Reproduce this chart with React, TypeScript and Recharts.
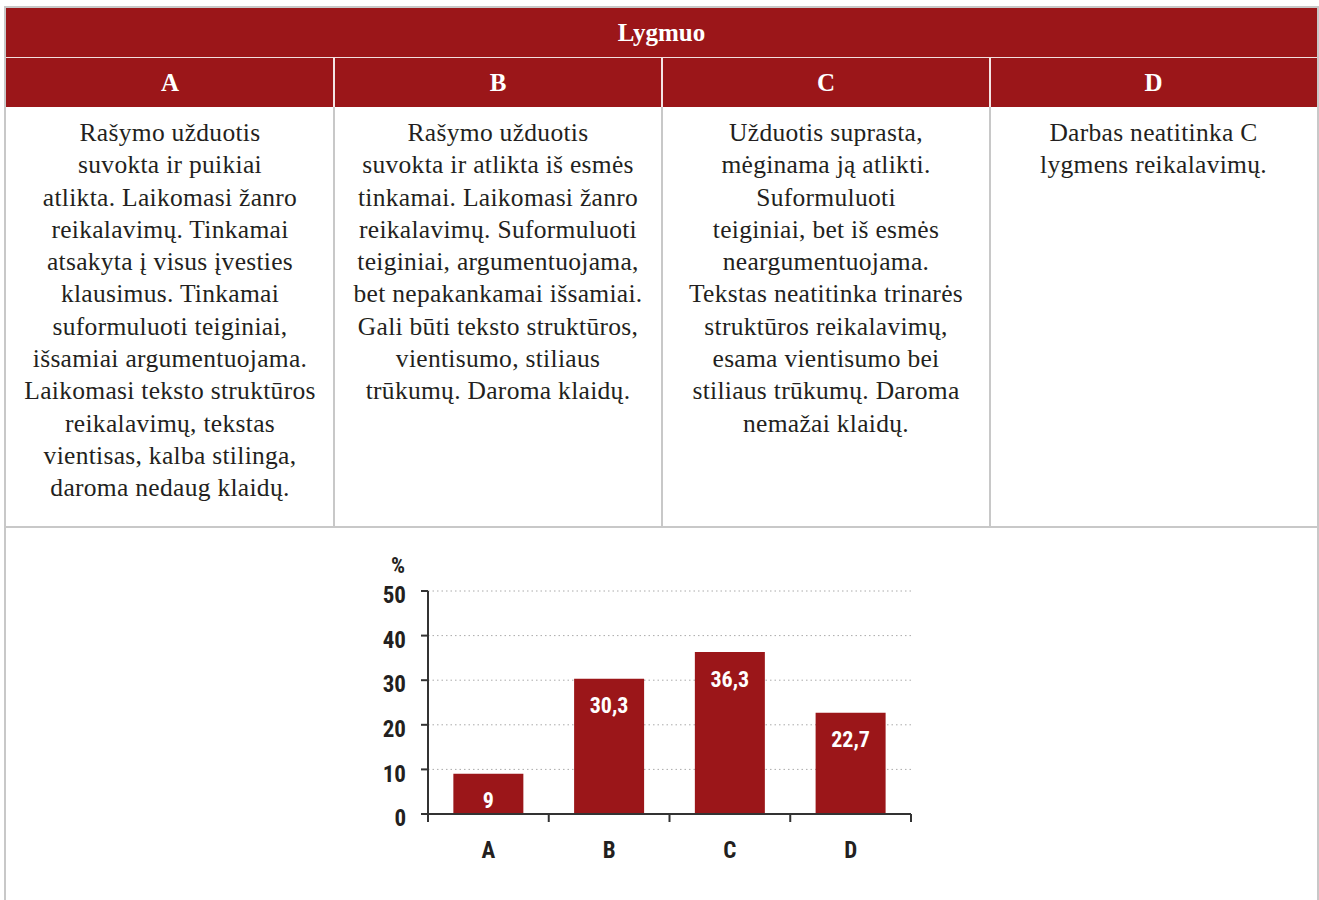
import React from 'react';
import { BarChart, Bar, XAxis, YAxis, CartesianGrid, LabelList } from 'recharts';

const levels = ['A', 'B', 'C', 'D'];
const shares = [9, 30.3, 36.3, 22.7];
const yTicks = [0, 10, 20, 30, 40, 50];

const levelTexts: string[][] = [
  [
    'Rašymo užduotis',
    'suvokta ir puikiai',
    'atlikta. Laikomasi žanro',
    'reikalavimų. Tinkamai',
    'atsakyta į visus įvesties',
    'klausimus. Tinkamai',
    'suformuluoti teiginiai,',
    'išsamiai argumentuojama.',
    'Laikomasi teksto struktūros',
    'reikalavimų, tekstas',
    'vientisas, kalba stilinga,',
    'daroma nedaug klaidų.',
  ],
  [
    'Rašymo užduotis',
    'suvokta ir atlikta iš esmės',
    'tinkamai. Laikomasi žanro',
    'reikalavimų. Suformuluoti',
    'teiginiai, argumentuojama,',
    'bet nepakankamai išsamiai.',
    'Gali būti teksto struktūros,',
    'vientisumo, stiliaus',
    'trūkumų. Daroma klaidų.',
  ],
  [
    'Užduotis suprasta,',
    'mėginama ją atlikti.',
    'Suformuluoti',
    'teiginiai, bet iš esmės',
    'neargumentuojama.',
    'Tekstas neatitinka trinarės',
    'struktūros reikalavimų,',
    'esama vientisumo bei',
    'stiliaus trūkumų. Daroma',
    'nemažai klaidų.',
  ],
  ['Darbas neatitinka C', 'lygmens reikalavimų.'],
];

const data = levels.map((level, i) => ({ level, value: shares[i] }));

const RED = '#9b1619';
const BORDER = '#c8c8c8';
const INK = '#231f20';
const SERIF = "'Liberation Serif', 'DejaVu Serif', serif";
const NARROW = "'Roboto Condensed', 'Liberation Sans Narrow', 'Liberation Sans', Arial, sans-serif";

// column edges of the table, in page pixels
const COLS = [6, 334, 662, 990, 1317];

const TICK_SIZE = 8;

const narrowText = {
  fontFamily: NARROW,
  fontWeight: 'bold' as const,
  style: { fontStretch: 'condensed' },
};

// category tick: label in the middle of the band, tick marks on the band edges
const LevelTick = (props: any) => {
  const { x, y, payload, index, visibleTicksCount } = props;
  const half = payload && typeof payload.offset === 'number' ? payload.offset : 60;
  const axisY = y - TICK_SIZE;
  const last = index === visibleTicksCount - 1;
  return (
    <g>
      <line x1={x - half} x2={x - half} y1={axisY} y2={axisY + TICK_SIZE} stroke="#333" strokeWidth={2} />
      {last && (
        <line x1={x + half} x2={x + half} y1={axisY} y2={axisY + TICK_SIZE} stroke="#333" strokeWidth={2} />
      )}
      <text
        x={x}
        y={axisY + 36}
        textAnchor="middle"
        dominantBaseline="central"
        fill={INK}
        fontSize={23}
        {...narrowText}
      >
        {payload.value}
      </text>
    </g>
  );
};

const abs = (left: number, top: number, width: number, height: number): React.CSSProperties => ({
  position: 'absolute',
  left,
  top,
  width,
  height,
  boxSizing: 'border-box',
});

export default function App() {
  return (
    <div style={{ position: 'absolute', left: 0, top: 0, width: 1319, height: 900, background: '#fff', overflow: 'hidden' }}>
      {/* outer frame */}
      <div style={{ ...abs(4, 6, 1315, 900), borderTop: `2px solid ${BORDER}`, borderLeft: `2px solid ${BORDER}`, borderRight: `2px solid ${BORDER}` }} />

      {/* title row */}
      <div
        style={{
          ...abs(6, 8, COLS[4] - COLS[0], 49),
          background: RED,
          color: '#fff',
          fontFamily: SERIF,
          fontWeight: 'bold',
          fontSize: 25,
          lineHeight: '50px',
          textAlign: 'center',
        }}
      >
        Lygmuo
      </div>
      <div style={{ ...abs(6, 57, COLS[4] - COLS[0], 1), background: '#f2dede' }} />

      {/* level header row */}
      {levels.map((level, i) => (
        <div
          key={level}
          style={{
            ...abs(COLS[i], 58, COLS[i + 1] - COLS[i], 49),
            background: RED,
            color: '#fff',
            fontFamily: SERIF,
            fontWeight: 'bold',
            fontSize: 25,
            lineHeight: '49px',
            textAlign: 'center',
          }}
        >
          {level}
        </div>
      ))}
      {COLS.slice(1, 4).map((c) => (
        <div key={`hw${c}`} style={{ ...abs(c - 1, 58, 2, 49), background: '#f4e4e4' }} />
      ))}

      {/* descriptions */}
      {levelTexts.map((lines, i) => (
        <div
          key={`t${i}`}
          style={{
            ...abs(COLS[i], 107, COLS[i + 1] - COLS[i], 419),
            paddingTop: 10,
            color: INK,
            fontFamily: SERIF,
            fontSize: 25.5,
            letterSpacing: 0.3,
            lineHeight: '32.3px',
            textAlign: 'center',
            whiteSpace: 'nowrap',
          }}
        >
          {lines.map((line, j) => (
            <div key={j}>{line}</div>
          ))}
        </div>
      ))}
      {COLS.slice(1, 4).map((c) => (
        <div key={`bv${c}`} style={{ ...abs(c - 1, 107, 2, 420), background: BORDER }} />
      ))}
      <div style={{ ...abs(6, 526, COLS[4] - COLS[0], 2), background: BORDER }} />

      {/* share of students per level */}
      <div style={{ position: 'absolute', left: 340, top: 550 }}>
        <BarChart
          width={600}
          height={330}
          data={data}
          margin={{ top: 41, right: 29, left: 48, bottom: 16 }}
          barCategoryGap="21%"
        >
          <CartesianGrid vertical={false} stroke="#aaaaaa" strokeDasharray="1.5 3" />
          <XAxis
            dataKey="level"
            height={50}
            axisLine={{ stroke: '#333', strokeWidth: 2 }}
            tickLine={false}
            tickSize={TICK_SIZE}
            tickMargin={0}
            tick={<LevelTick />}
            interval={0}
          />
          <YAxis
            width={40}
            domain={[0, 50]}
            ticks={yTicks}
            interval={0}
            axisLine={{ stroke: '#333', strokeWidth: 2 }}
            tickLine={{ stroke: '#333', strokeWidth: 2 }}
            tickSize={7}
            tickMargin={15}
            tick={{ fill: INK, fontSize: 23, dy: 4, ...narrowText }}
            label={{
              value: '%',
              position: 'top',
              offset: 18,
              dx: -10,
              fill: INK,
              fontSize: 22,
              ...narrowText,
            }}
          />
          <Bar dataKey="value" fill={RED} isAnimationActive={false}>
            <LabelList
              dataKey="value"
              position="insideTop"
              offset={19}
              fill="#fff"
              fontSize={22}
              {...narrowText}
              formatter={(v: any) => String(v).replace('.', ',')}
            />
          </Bar>
        </BarChart>
      </div>
    </div>
  );
}
